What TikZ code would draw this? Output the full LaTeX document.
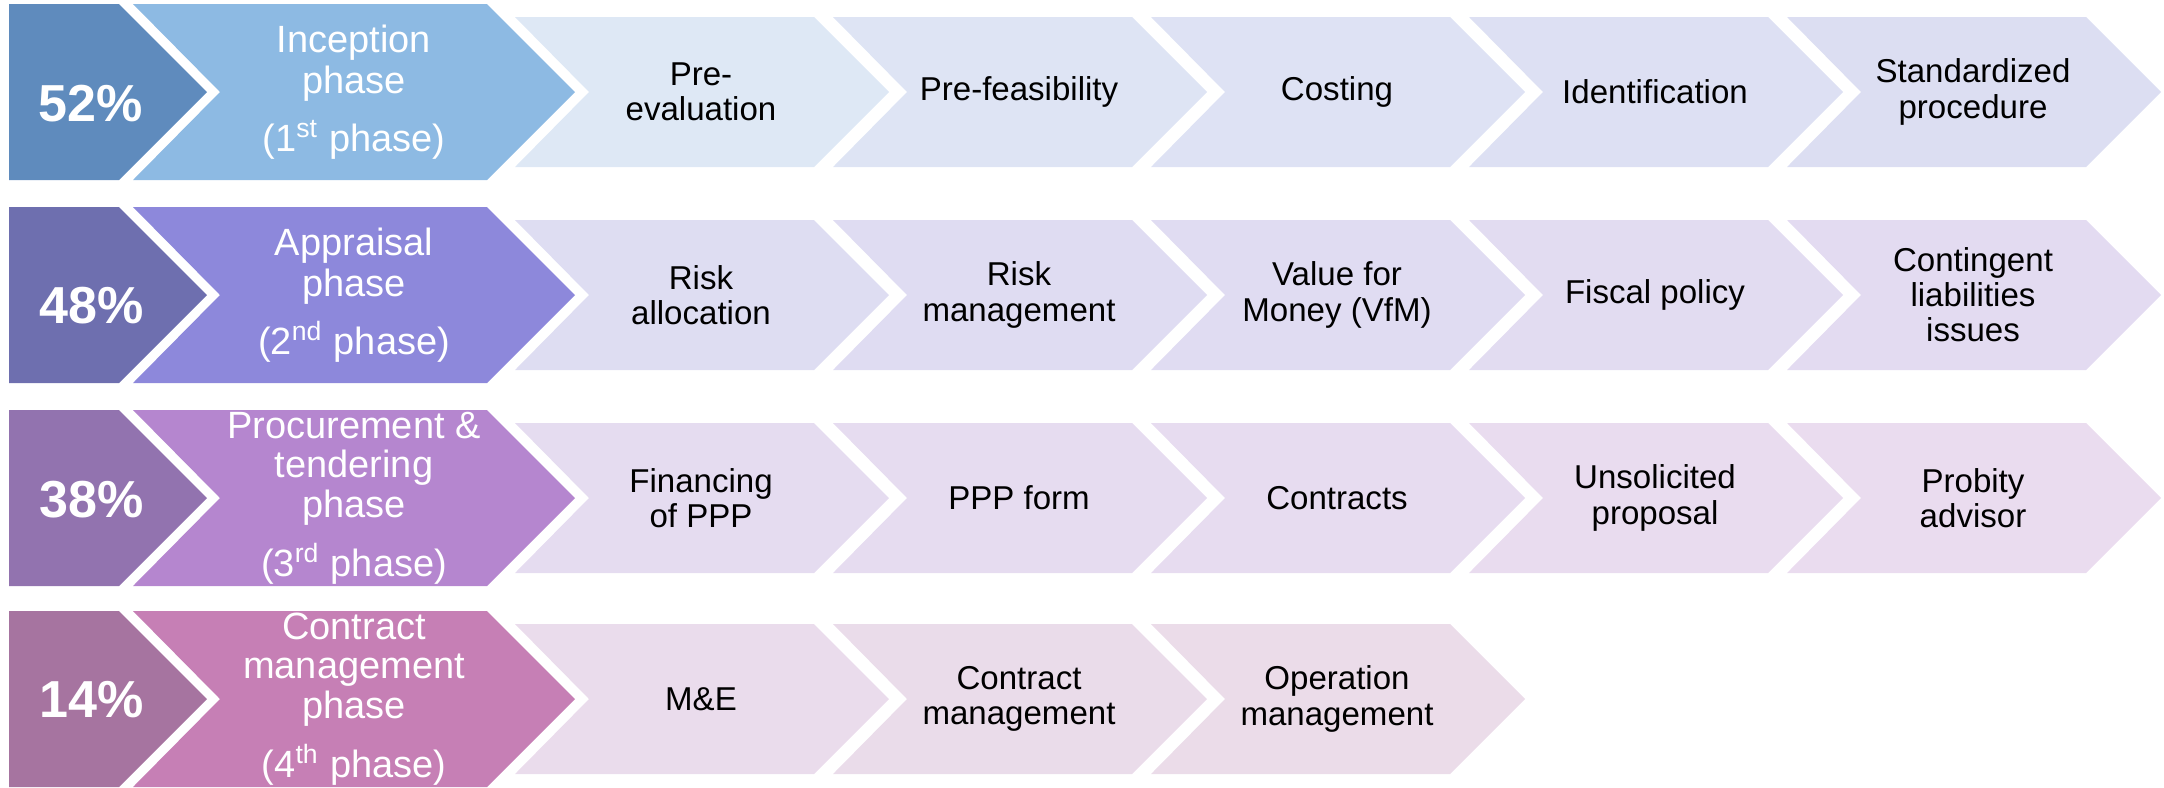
\documentclass[tikz,border=0pt]{standalone}
\usepackage{fontspec}
\setmainfont{Liberation Sans}
\definecolor{pa}{HTML}{5F8BBD}
\definecolor{pb}{HTML}{6E6FAF}
\definecolor{pc}{HTML}{9273AF}
\definecolor{pd}{HTML}{A674A0}
\definecolor{ha}{HTML}{8DBAE3}
\definecolor{hb}{HTML}{8D88DB}
\definecolor{hc}{HTML}{B586CF}
\definecolor{hd}{HTML}{C67FB5}
\definecolor{s11}{HTML}{DEE8F5}
\definecolor{s12}{HTML}{DEE4F4}
\definecolor{s13}{HTML}{DEE2F4}
\definecolor{s14}{HTML}{DDE0F3}
\definecolor{s15}{HTML}{DCDEF2}
\definecolor{s21}{HTML}{DEDDF2}
\definecolor{s22}{HTML}{DFDCF2}
\definecolor{s23}{HTML}{E0DCF2}
\definecolor{s24}{HTML}{E2DCF1}
\definecolor{s25}{HTML}{E3DBF1}
\definecolor{s31}{HTML}{E5DCF0}
\definecolor{s32}{HTML}{E6DCF0}
\definecolor{s33}{HTML}{E7DCF0}
\definecolor{s34}{HTML}{E9DCEF}
\definecolor{s35}{HTML}{EADCEF}
\definecolor{s41}{HTML}{EADCEC}
\definecolor{s42}{HTML}{EADCEA}
\definecolor{s43}{HTML}{EBDCE9}
% #1 left x, #2 centre y, #3 right x of body, #4 half height, #5 notch depth, #6 fill
\newcommand{\arrowbox}[6]{%
  \fill[#6] ({#1},{#2-#4}) -- ({#3},{#2-#4}) -- ({#3+#4},{#2}) -- ({#3},{#2+#4})
    -- ({#1},{#2+#4}) -- ({#1+#5},{#2}) -- cycle;}
\begin{document}
\begin{tikzpicture}[x=0.01cm,y=-0.01cm,
  pcttxt/.style={text=white,inner sep=0pt,font=\fontsize{14.8}{16}\selectfont\bfseries},
  phasetxt/.style={text=white,align=center,inner sep=0pt,font=\fontsize{10.8}{11.24}\selectfont},
  phasetxtwide/.style={phasetxt,font=\fontsize{10.8}{11.7}\selectfont},
  steptxt/.style={text=black,align=center,inner sep=0pt,font=\fontsize{9.4}{10}\selectfont}]
\useasboundingbox (0,0) rectangle (2164,787);
\clip (0,0) rectangle (2164,787);

% ---------- row 1 ----------
\arrowbox{9}{92}{119}{88}{0}{pa}
\arrowbox{133}{92}{487}{88}{87}{ha}
\arrowbox{515}{92}{814}{75}{74}{s11}
\arrowbox{833}{92}{1132}{75}{74}{s12}
\arrowbox{1151}{92}{1450}{75}{74}{s13}
\arrowbox{1469}{92}{1768}{75}{74}{s14}
\arrowbox{1787}{92}{2086}{75}{74}{s15}
\node[pcttxt] (pct1) at (91,104) {52\%};
\node[phasetxtwide] (ph1) at (354,92) {Inception\\phase\\[4.8pt](1\textsuperscript{st} phase)};
\node[steptxt] (a1) at (701,92) {Pre-\\evaluation};
\node[steptxt] (a2) at (1019,92) {Pre-feasibility};
\node[steptxt] (a3) at (1337,92) {Costing};
\node[steptxt] (a4) at (1655,92) {Identification};
\node[steptxt] (a5) at (1973,92) {Standardized\\procedure};

% ---------- row 2 ----------
\arrowbox{9}{295}{119}{88}{0}{pb}
\arrowbox{133}{295}{487}{88}{87}{hb}
\arrowbox{515}{295}{814}{75}{74}{s21}
\arrowbox{833}{295}{1132}{75}{74}{s22}
\arrowbox{1151}{295}{1450}{75}{74}{s23}
\arrowbox{1469}{295}{1768}{75}{74}{s24}
\arrowbox{1787}{295}{2086}{75}{74}{s25}
\node[pcttxt] (pct2) at (92,306) {48\%};
\node[phasetxtwide] (ph2) at (354,295) {Appraisal\\phase\\[4.8pt](2\textsuperscript{nd} phase)};
\node[steptxt] (b1) at (701,295) {Risk\\allocation};
\node[steptxt] (b2) at (1019,295) {Risk\\management};
\node[steptxt] (b3) at (1337,295) {Value for\\Money (VfM)};
\node[steptxt] (b4) at (1655,295) {Fiscal policy};
\node[steptxt] (b5) at (1973,295) {Contingent\\liabilities\\issues};

% ---------- row 3 ----------
\arrowbox{9}{498}{119}{88}{0}{pc}
\arrowbox{133}{498}{487}{88}{87}{hc}
\arrowbox{515}{498}{814}{75}{74}{s31}
\arrowbox{833}{498}{1132}{75}{74}{s32}
\arrowbox{1151}{498}{1450}{75}{74}{s33}
\arrowbox{1469}{498}{1768}{75}{74}{s34}
\arrowbox{1787}{498}{2086}{75}{74}{s35}
\node[pcttxt] (pct3) at (92,500) {38\%};
\node[phasetxt] (ph3) at (354,498) {Procurement \&\\tendering\\phase\\[4pt](3\textsuperscript{rd} phase)};
\node[steptxt] (c1) at (701,498) {Financing\\of PPP};
\node[steptxt] (c2) at (1019,498) {PPP form};
\node[steptxt] (c3) at (1337,498) {Contracts};
\node[steptxt] (c4) at (1655,498) {Unsolicited\\proposal};
\node[steptxt] (c5) at (1973,498) {Probity\\advisor};

% ---------- row 4 ----------
\arrowbox{9}{699}{119}{88}{0}{pd}
\arrowbox{133}{699}{487}{88}{87}{hd}
\arrowbox{515}{699}{814}{75}{74}{s41}
\arrowbox{833}{699}{1132}{75}{74}{s42}
\arrowbox{1151}{699}{1450}{75}{74}{s43}
\node[pcttxt] (pct4) at (92,700) {14\%};
\node[phasetxt] (ph4) at (354,699) {Contract\\management\\phase\\[4pt](4\textsuperscript{th} phase)};
\node[steptxt] (d1) at (701,699) {M\&E};
\node[steptxt] (d2) at (1019,699) {Contract\\management};
\node[steptxt] (d3) at (1337,699) {Operation\\management};
\end{tikzpicture}
\end{document}
